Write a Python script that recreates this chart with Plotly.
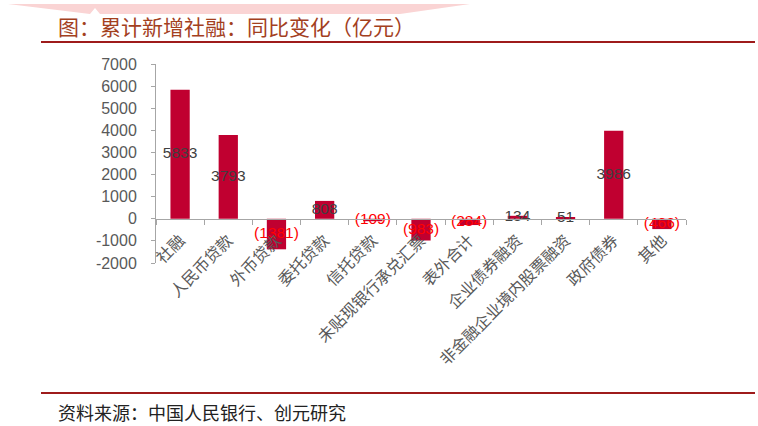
import plotly.graph_objects as go

categories = ["社融", "人民币贷款", "外币贷款", "委托贷款", "信托贷款", "未贴现银行承兑汇票",
              "表外合计", "企业债券融资", "非金融企业境内股票融资", "政府债券", "其他"]
values = [5833, 3793, -1381, 808, -109, -983, -284, 134, 51, 3986, -466]
y_ticks = [-2000, -1000, 0, 1000, 2000, 3000, 4000, 5000, 6000, 7000]

title_text = "图：累计新增社融：同比变化（亿元）"
source_text = "资料来源：中国人民银行、创元研究"

W, H = 758, 426
L, R, T, B = 156, 72, 64, 163
PW, PH = W - L - R, H - T - B

def px(x):
    return (x - L) / PW

def py(y):
    return (H - B - y) / PH

labels = [str(v) if v >= 0 else "(" + str(-v) + ")" for v in values]
label_colors = ["#404040" if v >= 0 else "#FF0000" for v in values]
label_y = [v / 2 for v in values]

fig = go.Figure()
fig.add_trace(go.Bar(
    x=categories, y=values, marker=dict(color="#C00030", line=dict(width=0)),
    width=0.4, hoverinfo="x+y"))
fig.add_trace(go.Scatter(
    x=categories, y=label_y, mode="text", text=labels,
    textfont=dict(family="Liberation Sans, Arial", size=15.5, color=label_colors),
    textposition="middle center", hoverinfo="skip"))

fig.update_layout(
    width=W, height=H, showlegend=False,
    margin=dict(l=L, r=R, t=T, b=B, autoexpand=False),
    paper_bgcolor="white", plot_bgcolor="white",
    xaxis=dict(
        type="category", range=[-0.5, len(categories) - 0.5],
        anchor="free", position=2 / 9,
        showline=True, linecolor="#A6A6A6", linewidth=1,
        ticks="outside", tickson="boundaries", ticklen=5, tickcolor="#A6A6A6",
        ticklabelstandoff=5,
        tickangle=-45, showgrid=False, zeroline=False,
        tickfont=dict(family="Noto Sans CJK SC", size=16, color="#595959")),
    yaxis=dict(
        range=[-2000, 7000], tickvals=y_ticks, ticktext=[str(t) for t in y_ticks],
        showline=True, linecolor="#A6A6A6", linewidth=1,
        ticks="outside", ticklen=4, tickcolor="#A6A6A6",
        ticklabelstandoff=11,
        showgrid=False, zeroline=False,
        tickfont=dict(family="Liberation Sans, Arial", size=16, color="#595959")),
)

# decorative pink ribbon at top
path = "M {} {} L {} {} L {} {} L {} {} L {} {} L {} {} Z".format(
    px(8), py(4), px(470), py(4), px(400), py(14), px(100), py(14), px(95), py(8), px(90), py(14))
fig.add_shape(type="path", path=path, xref="paper", yref="paper",
              fillcolor="#FAD4D4", line=dict(width=0), layer="below")

# title and source lines
for yline in (42, 393):
    fig.add_shape(type="line", xref="paper", yref="paper",
                  x0=px(41), x1=px(755), y0=py(yline), y1=py(yline),
                  line=dict(color="#9E1B1B", width=2))

fig.add_annotation(text=title_text, xref="paper", yref="paper", x=px(56), y=py(26),
                   xanchor="left", yanchor="middle", showarrow=False,
                   font=dict(family="Noto Sans CJK SC", size=21, color="#A3401E"))
fig.add_annotation(text=source_text, xref="paper", yref="paper", x=px(56), y=py(412),
                   xanchor="left", yanchor="middle", showarrow=False,
                   font=dict(family="Noto Sans CJK SC", size=18, color="#222222"))

fig.write_html("out.html", config={"displayModeBar": False},
               post_script="document.body.style.margin='0';document.body.style.overflow='hidden';")
